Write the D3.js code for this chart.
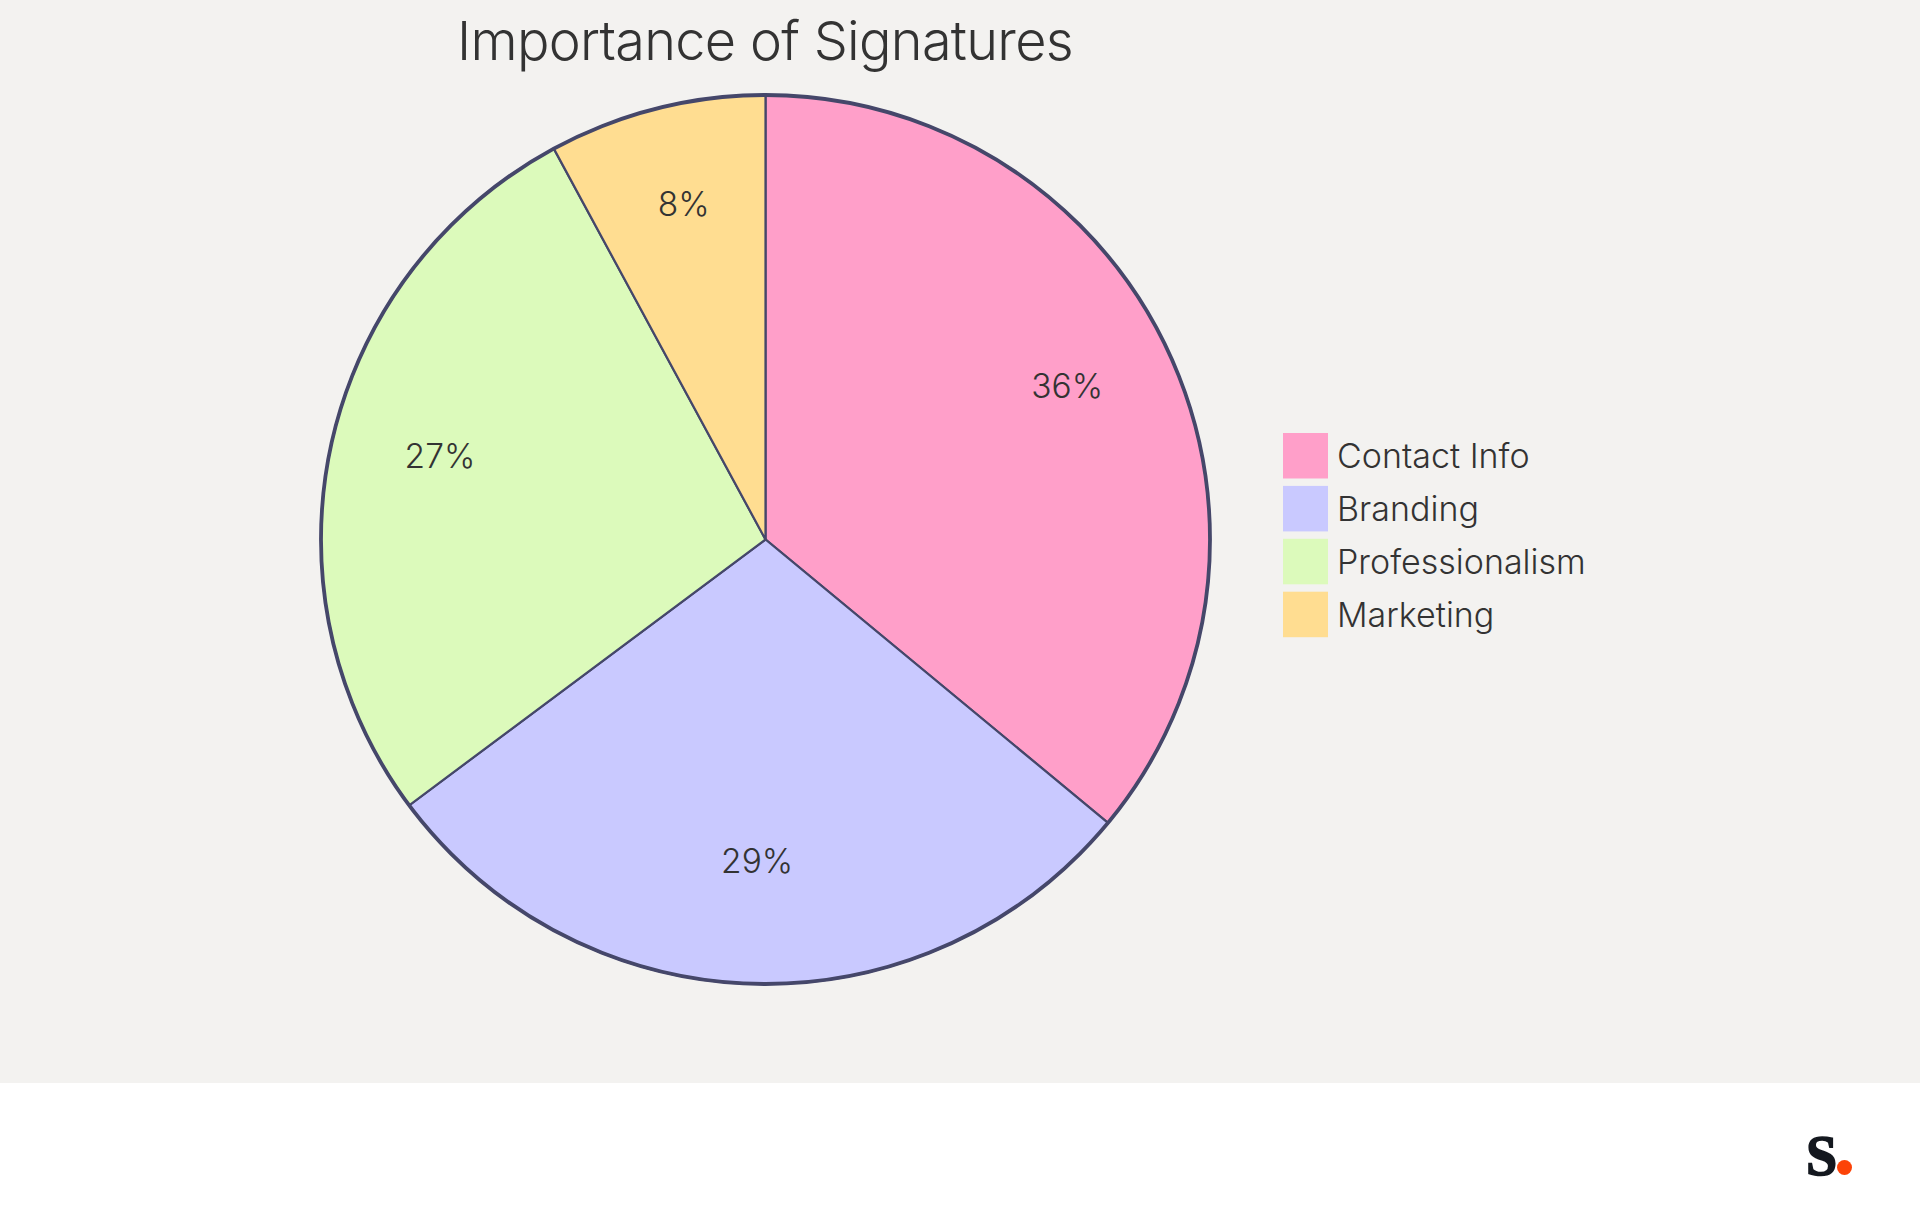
<!DOCTYPE html>
<html><head><meta charset="utf-8">
<script src="https://cdn.jsdelivr.net/npm/d3@7"></script>
<style>
html,body{margin:0;padding:0;background:#fff}
svg{display:block}
text{font-family:Inter,sans-serif;fill:#333}
</style></head><body>
<svg id="c" width="1920" height="1215"></svg>
<script>
const chartTitle = "Importance of Signatures";
const categories = ["Contact Info","Branding","Professionalism","Marketing"];
const values = [36,28.8,27.3,7.9];
const labels = ["36%","29%","27%","8%"];
const colors = ["#ff9fc9","#c9c9ff","#dcfabb","#ffdd91"];

const svg = d3.select("#c");
svg.append("rect").attr("width",1920).attr("height",1083).attr("fill","#f3f2f0");
const R = 444.5, cx = 765.5, cy = 539.5;
const g = svg.append("g").attr("transform",`translate(${cx},${cy})`);
const pie = d3.pie().sort(null)(values);
const arc = d3.arc().innerRadius(0).outerRadius(R);
const labelArc = d3.arc().innerRadius(R*0.75).outerRadius(R*0.75);
g.selectAll("path.s").data(pie).join("path").attr("class","s")
 .attr("d",arc).attr("fill",(d,i)=>colors[i]).attr("stroke","#45476a").attr("stroke-width",2.2);
g.append("circle").attr("r",R).attr("fill","none").attr("stroke","#45476a").attr("stroke-width",3.8);
g.selectAll("text").data(pie).join("text")
 .attr("transform",d=>`translate(${labelArc.centroid(d)})`)
 .attr("text-anchor","middle")
 .attr("font-size",33.5).attr("font-weight",300).text((d,i)=>labels[i]);
svg.append("text").attr("x",765).attr("y",60).attr("text-anchor","middle")
 .attr("font-size",54).attr("letter-spacing",-0.7).attr("font-weight",300).text(chartTitle);
const lg = svg.append("g").selectAll("g").data(categories).join("g")
 .attr("transform",(d,i)=>`translate(1283,${433+i*52.9})`);
lg.append("rect").attr("width",45).attr("height",45.5).attr("fill",(d,i)=>colors[i]);
lg.append("text").attr("x",54).attr("y",35).attr("font-size",34).attr("font-weight",300).text(d=>d);
svg.append("text").attr("x",1806).attr("y",1175).attr("font-weight",700)
 .attr("font-size",56).style("font-family","'Liberation Serif',serif").style("fill","#14181f")
 .style("stroke","#14181f").style("stroke-width",1.6).text("S");
svg.append("circle").attr("cx",1844.5).attr("cy",1167.5).attr("r",7.5).attr("fill","#fc4308");
</script></body></html>
